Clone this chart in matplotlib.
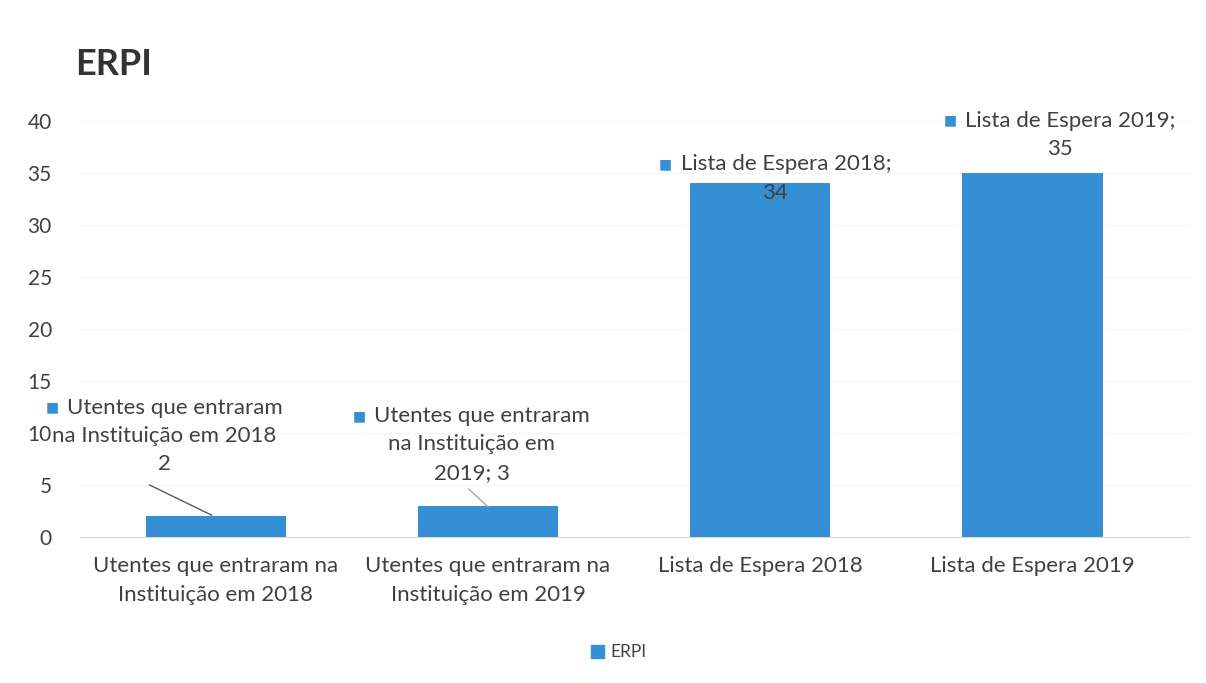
import matplotlib
matplotlib.use("Agg")
import matplotlib.pyplot as plt
from matplotlib.offsetbox import TextArea, HPacker, VPacker, AnnotationBbox

# ---- data ----
categories = ["Utentes que entraram na\nInstituição em 2018",
              "Utentes que entraram na\nInstituição em 2019",
              "Lista de Espera 2018",
              "Lista de Espera 2019"]
values = [2, 3, 34, 35]
series_name = "ERPI"
title = "ERPI"
yticks = [0, 5, 10, 15, 20, 25, 30, 35, 40]
label_lines = [["Utentes que entraram", "na Instituição em 2018", "2"],
               ["Utentes que entraram", "na Instituição em", "2019; 3"],
               ["Lista de Espera 2018;", "34"],
               ["Lista de Espera 2019;", "35"]]

# ---- style ----
BLUE = "#3490d2"
TXT = "#404040"
FONT = ["Lato", "DejaVu Sans"]
plt.rcParams["font.family"] = FONT
FS = 16

fig = plt.figure(figsize=(12.06, 6.83), dpi=100)
ax = fig.add_axes([0.066, 0.2138, 0.921, 0.609])

x = list(range(len(categories)))
ax.bar(x, values, width=0.515, color=BLUE, zorder=3)

ax.set_xlim(-0.5, len(categories) - 0.42)
ax.set_ylim(0, 40)
ax.set_yticks(yticks)
ax.set_xticks(x)
ax.set_xticklabels(categories, fontsize=FS, color=TXT, linespacing=1.55)
ax.tick_params(axis="x", length=0, pad=14)
ax.tick_params(axis="y", length=0, pad=20, labelsize=15, labelcolor=TXT)
for lab in ax.get_yticklabels():
    lab.set_horizontalalignment("right")
ax.grid(axis="y", color="#f5f5f5", linewidth=0.8, zorder=0)
for s in ["top", "right", "left"]:
    ax.spines[s].set_visible(False)
ax.spines["bottom"].set_color("#d9d9d9")

# title
fig.text(0.062, 0.905, title, fontsize=26, fontweight="bold", color="#333333",
         ha="left", va="center")

# data labels with legend keys
label_dx = [-0.19, -0.06, 0.055, 0.1]
label_top_dy = [11.4, 9.6, 2.8, 6.0]
for i, (lines, v) in enumerate(zip(label_lines, values)):
    first = HPacker(children=[
        TextArea("■", textprops=dict(color=BLUE, fontsize=10, family=FONT)),
        TextArea(lines[0], textprops=dict(color=TXT, fontsize=FS))],
        align="center", pad=0, sep=6)
    rows = [first] + [TextArea(t, textprops=dict(color=TXT, fontsize=FS)) for t in lines[1:]]
    box = VPacker(children=rows, align="center", pad=0, sep=6)
    ab = AnnotationBbox(box, (x[i] + label_dx[i], v + label_top_dy[i]),
                        box_alignment=(0.5, 1.0), frameon=False,
                        annotation_clip=False, zorder=5)
    ax.add_artist(ab)

# leader lines for small bars
ax.plot([x[0] - 0.243, x[0] - 0.015], [values[0] + 3.0, values[0] + 0.1],
        color="#595959", linewidth=1.0, zorder=4)
ax.plot([x[1] - 0.07, x[1] + 0.0], [values[1] + 1.6, values[1] - 0.1],
        color="#a6a6a6", linewidth=1.0, zorder=4)

# legend
handle = plt.Rectangle((0, 0), 1, 1, color=BLUE)
fig.legend([handle], [series_name], loc="center", bbox_to_anchor=(0.513, 0.045),
           frameon=False, fontsize=12.5, handlelength=0.75, handleheight=0.75,
           handletextpad=0.35, labelcolor=TXT)

fig.savefig("out.png", dpi=100, facecolor="white")
